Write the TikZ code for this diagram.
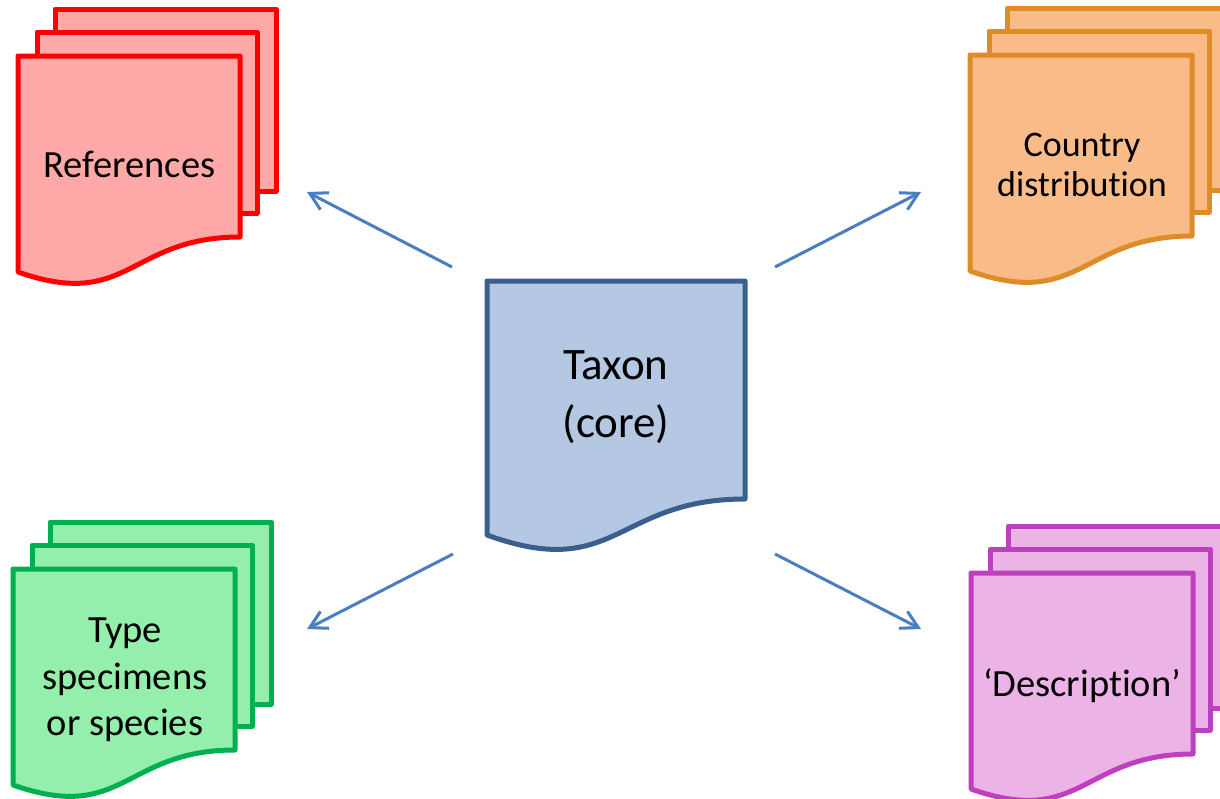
\documentclass[tikz,border=0pt]{standalone}
\usepackage{fontspec}
\setmainfont{Carlito}[Ligatures=NoCommon]
\usetikzlibrary{arrows.meta}

\definecolor{refsline}{HTML}{FF0000}
\definecolor{refsfill}{HTML}{FFA8A8}
\definecolor{distline}{HTML}{DE8C28}
\definecolor{distfill}{HTML}{F9BC89}
\definecolor{typesline}{HTML}{00B050}
\definecolor{typesfill}{HTML}{93EFAB}
\definecolor{descrline}{HTML}{BF40BF}
\definecolor{descrfill}{HTML}{ECB3E6}
\definecolor{coreline}{HTML}{3B5E8C}
\definecolor{corefill}{HTML}{B4C8E4}
\definecolor{linkblue}{HTML}{4A7EC2}

\begin{document}
\begin{tikzpicture}[x=1pt,y=-1pt]

	\tikzstyle doc lines=[line width=5pt, line join=round];
	\tikzstyle link lines=[draw=linkblue, line width=3pt, -{Straight Barb[length=17pt,width=19pt]}];
	\tikzstyle label text=[align=center, inner sep=0pt, text=black];

	\useasboundingbox (0,0) rectangle (1220,798);

	% stacked documents, back to front
	\foreach \x/\y/\stroke/\paint in {18/56/refsline/refsfill,970/55/distline/distfill,13/569/typesline/typesfill,971/573/descrline/descrfill}
		{
		\draw[doc lines, draw=\stroke, fill=\paint, xshift=\x, yshift=-\y] (37,-47) rectangle (258,135);
		\draw[doc lines, draw=\stroke, fill=\paint, xshift=\x, yshift=-\y] (19,-24) rectangle (239,157);
		\draw[doc lines, draw=\stroke, fill=\paint, xshift=\x, yshift=-\y] (0,0) -- (222,0) -- (222,181)
			.. controls (111,181) and (111,255) .. (0,216) -- cycle;
		}

	% core document
	\draw[doc lines, draw=coreline, fill=corefill] (487,281) -- (745,281) -- (745,499)
		.. controls (616,499) and (616,582) .. (487,535) -- cycle;

	\node[label text, anchor=base, font=\fontsize{38.5}{46.5}\selectfont] (refs) at (129.5,177) {References};
	\node[label text, font=\fontsize{36}{40}\selectfont] (dist) at (1082,165) {Country\\distribut\kern0pt ion};
	\node[label text, font=\fontsize{38.5}{46.5}\selectfont] (types) at (125,680) {Type\\specimens\\or species};
	\node[label text, anchor=base, font=\fontsize{38.5}{46.5}\selectfont] (descr) at (1082,696) {‘Descript\kern0pt ion’};
	\node[label text, font=\fontsize{45}{58}\selectfont] (core) at (616,397) {Taxon\\(core)};

	% arrow ends
	\coordinate (core nw) at (452,267);
	\coordinate (core ne) at (775,267);
	\coordinate (core sw) at (453,554);
	\coordinate (core se) at (775,554);
	\coordinate (refs in) at (307,192);
	\coordinate (dist in) at (921,192);
	\coordinate (types in) at (307,629);
	\coordinate (descr in) at (921,629);

	\draw[link lines] (core nw) -- (refs in);
	\draw[link lines] (core ne) -- (dist in);
	\draw[link lines] (core sw) -- (types in);
	\draw[link lines] (core se) -- (descr in);

\end{tikzpicture}
\end{document}
